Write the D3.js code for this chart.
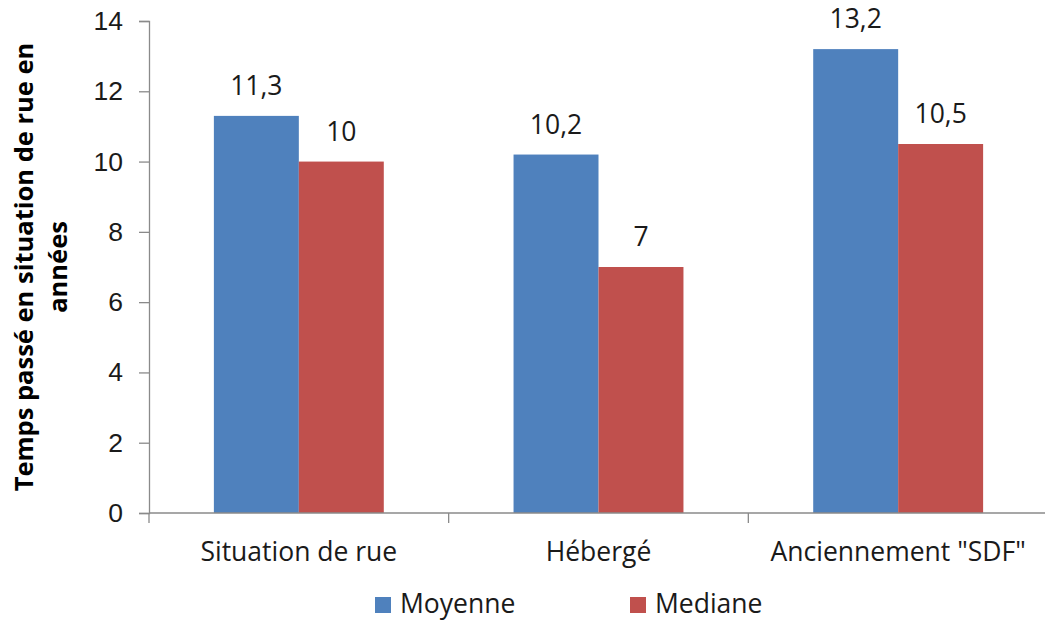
<!DOCTYPE html>
<html>
<head>
<meta charset="utf-8">
<script src="https://cdn.jsdelivr.net/npm/d3@7"></script>
<style>
  html, body { margin: 0; padding: 0; background: #fff; }
  svg { display: block; font-family: "Open Sans", "Liberation Sans", Arial, sans-serif; }
</style>
</head>
<body>
<svg id="chart" width="1045" height="622"></svg>
<script>
// Time spent on the street, in years, per population group
const categories = ["Situation de rue", "Hébergé", "Anciennement \"SDF\""];
const seriesNames = ["Moyenne", "Mediane"];
const moyenne = [11.3, 10.2, 13.2];
const mediane = [10, 7, 10.5];
const yTicks = [0, 2, 4, 6, 8, 10, 12, 14];
const colors = ["#4F81BD", "#C0504D"];

const svg = d3.select("#chart");
const plotLeft = 149, plotRight = 1048, plotTop = 21, plotBottom = 513;
const fontSize = "26.5px";

const values = [moyenne, mediane];
const rows = categories.map((c, i) => ({
  cat: c,
  vals: seriesNames.map((s, j) => ({ series: s, idx: j, v: values[j][i] }))
}));

const x0 = d3.scaleBand().domain(categories).range([plotLeft, plotRight])
  .paddingInner(0.433).paddingOuter(0.2165);
const x1 = d3.scaleBand().domain(seriesNames).range([0, x0.bandwidth()]);
const y = d3.scaleLinear().domain([0, 14]).range([plotBottom, plotTop]);

const fmt = v => String(v).replace(".", ",");
const textColor = "#1a1a1a";
const axisColor = "#8a8a8a";

// Y axis
const yAxis = svg.append("g").attr("transform", `translate(${plotLeft},0)`)
  .call(d3.axisLeft(y).tickValues(yTicks).tickSize(10).tickPadding(16).tickFormat(d => d));
yAxis.select(".domain").attr("stroke", axisColor).attr("stroke-width", 1.3);
yAxis.selectAll(".tick line").attr("stroke", axisColor).attr("stroke-width", 1.3);
yAxis.selectAll(".tick text").attr("fill", textColor)
  .attr("font-family", null).attr("font-size", null)
  .style("font-size", fontSize);

// Bars
const groups = svg.append("g").selectAll("g").data(rows).join("g")
  .attr("transform", d => `translate(${x0(d.cat)},0)`);
groups.selectAll("rect").data(d => d.vals).join("rect")
  .attr("x", d => x1(d.series))
  .attr("width", x1.bandwidth())
  .attr("y", d => y(d.v))
  .attr("height", d => y(0) - y(d.v))
  .attr("fill", d => colors[d.idx]);

// Value labels
groups.selectAll("text").data(d => d.vals).join("text")
  .attr("x", d => x1(d.series) + x1.bandwidth() / 2)
  .attr("y", d => y(d.v) - 21)
  .attr("text-anchor", "middle")
  .attr("fill", textColor)
  .style("font-size", fontSize)
  .text(d => fmt(d.v));

// X axis (category boundaries as ticks)
const xg = svg.append("g");
xg.append("line").attr("x1", plotLeft).attr("x2", 1045).attr("y1", plotBottom).attr("y2", plotBottom)
  .attr("stroke", axisColor).attr("stroke-width", 1.3);
const step = x0.step();
const bounds = d3.range(categories.length).map(i => plotLeft + i * step);
xg.selectAll("line.tk").data(bounds).join("line").attr("class", "tk")
  .attr("x1", d => d).attr("x2", d => d).attr("y1", plotBottom).attr("y2", plotBottom + 10)
  .attr("stroke", axisColor).attr("stroke-width", 1.3);
xg.selectAll("text").data(categories).join("text")
  .attr("x", d => x0(d) + x0.bandwidth() / 2)
  .attr("y", 561)
  .attr("text-anchor", "middle")
  .attr("fill", textColor)
  .style("font-size", fontSize)
  .text(d => d);

// Y axis title (two lines)
const title = svg.append("text")
  .attr("transform", `translate(33,267) rotate(-90)`)
  .attr("text-anchor", "middle")
  .attr("fill", "#000")
  .style("font-size", "25.5px")
  .style("font-weight", "bold");
title.append("tspan").attr("x", 0).attr("y", 0).text("Temps passé en situation de rue en");
title.append("tspan").attr("x", 0).attr("y", 34).text("années");

// Legend
const legendX = [375, 630];
const legend = svg.append("g").selectAll("g").data(seriesNames).join("g")
  .attr("transform", (d, i) => `translate(${legendX[i]},597)`);
legend.append("rect").attr("width", 16).attr("height", 16)
  .attr("fill", (d, i) => colors[i]);
legend.append("text").attr("x", 25).attr("y", 16)
  .attr("fill", textColor).style("font-size", fontSize).text(d => d);
</script>
</body>
</html>
